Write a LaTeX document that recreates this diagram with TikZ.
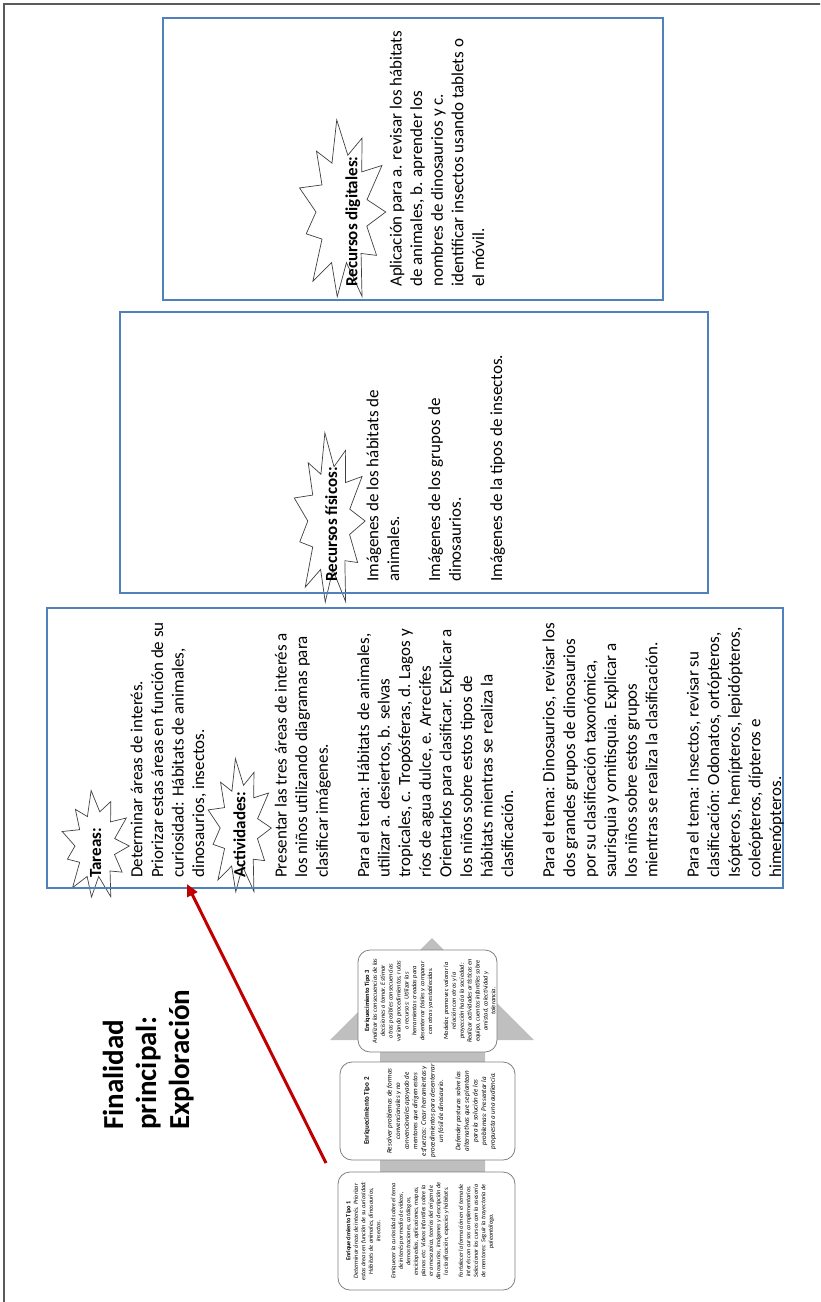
\documentclass[tikz,border=0pt]{standalone}
\usepackage{fontspec}
\setmainfont{Carlito}
\usetikzlibrary{arrows.meta}
\definecolor{boxblue}{RGB}{79,129,189}
\definecolor{framegrey}{RGB}{90,90,90}
\definecolor{arrowgrey}{RGB}{191,191,191}
\definecolor{tipoborder}{RGB}{128,128,128}
\definecolor{redline}{RGB}{192,0,0}
\tikzset{
  bluebox/.style={draw=boxblue, line width=1.3pt},
  maintext/.style={rotate=90, anchor=base west, align=left, inner sep=0pt, font=\fontsize{17}{20.6}\selectfont},
  titletext/.style={rotate=90, anchor=base west, align=left, inner sep=0pt, font=\fontsize{29}{33}\selectfont\bfseries},
  tipobox/.style={draw=tipoborder, fill=white, rounded corners=12pt, line width=0.8pt},
  tipotext/.style={rotate=90, align=center, inner sep=0pt},
  starline/.style={draw=black!75, fill=white, line width=0.7pt},
  explosion/.pic={\path[starline] (0:0.95) -- (14:0.55) -- (30:1.0) -- (46:0.6) -- (62:0.9) -- (80:0.62) -- (98:1.0) -- (115:0.58) -- (132:0.88) -- (148:0.55) -- (165:1.0) -- (180:0.6) -- (196:0.85) -- (212:0.55) -- (228:1.0) -- (245:0.6) -- (262:0.92) -- (278:0.55) -- (295:1.0) -- (312:0.6) -- (328:0.88) -- (344:0.55) -- cycle;},
  redarrow/.style={draw=redline, line width=3pt, -{Triangle[length=12pt,width=11pt]}},
}
\begin{document}
\begin{tikzpicture}[x=1pt,y=1pt]
\useasboundingbox (0,0) rectangle (820,-1302);
\clip (0,0) rectangle (820,-1302);
% outer frame
\draw[framegrey, line width=1.5pt] (4,-1310) -- (4,-4) -- (830,-4);

% grey upward process arrow
\fill[arrowgrey] (380,-1280) -- (380,-1040) -- (330,-1040) -- (432,-938) -- (534,-1040) -- (485,-1040) -- (485,-1280) -- cycle;

% enrichment boxes
\draw[tipobox] (358,-950) rectangle (497,-1052);
\draw[tipobox] (340,-1062) rectangle (515,-1160);
\draw[tipobox] (338,-1172) rectangle (515,-1290);

\node[tipotext, font=\fontsize{6.4}{7.9}\selectfont\itshape] (tipo3) at (430,-1001) {\textup{\textbf{Enriquecimiento Tipo 3}}\\ Analizar las consecuencias de las\\ decisiones a tomar. Estimar\\ otras posibles consecuencias\\ variando procedimientos, rutas\\ o recursos: Utilizar las\\ herramientas creadas para\\ desenterrar fósiles y comparar\\ con otras ya establecidas.\\ ~\\ Modelar, promover, valorar la\\ relación con otros y la\\ proyección hacia la sociedad:\\ Realizar actividades artísticas en\\ equipo, cuentos infantiles sobre\\ amistad, colectividad y\\ tolerancia.};

\node[tipotext, font=\fontsize{7}{8.6}\selectfont\itshape] (tipo2) at (430,-1111) {\textup{\textbf{Enriquecimiento Tipo 2}}\\[14pt] Resolver problemas de formas\\ convencionales y no\\ convencionales apoyado de\\ mentores que dirigen estos\\ esfuerzos: Crear herramientas y\\ procedimientos para desenterrar\\ un fósil de dinosaurio.\\ ~\\ Defender posturas sobre las\\ alternativas que se plantean\\ para la solución de los\\ problemas: Presentar la\\ propuesta a una audiencia.};

\node[tipotext, font=\fontsize{6.2}{7.5}\selectfont\itshape] (tipo1) at (420,-1231) {\textup{\textbf{Enriquecimiento Tipo 1}}\\ Determinar áreas de interés. Priorizar\\ estas áreas en función de su curiosidad:\\ Hábitats de animales, dinosaurios,\\ insectos.\\ ~\\ Enriquecer la curiosidad sobre el tema\\ de interés por medio de videos,\\ demostraciones, catálogos,\\ enciclopedias, aplicaciones, mapas,\\ planos etc: Videos infantiles sobre la\\ era mesozoica, teorías del origen de\\ dinosaurios, imágenes y descripción de\\ la clasificación, especies y hábitats.\\ ~\\ Fortalecer la formación en el tema de\\ interés con cursos complementarios.\\ Seleccionar los cursos con la asesoría\\ de mentores: Seguir la trayectoria de\\ paleontólogo.};

% title (anchor = baseline of the last line)
\node[titletext] (title) at (189,-1130) {Finalidad\\ principal:\\ Exploración};

% explosion stars
\pic[xscale=35, yscale=56] (starT) at (96,-846) {explosion};
\pic[xscale=33, yscale=70] (starA) at (240,-828) {explosion};
\pic[xscale=37, yscale=89] (starF) at (330,-521) {explosion};
\pic[xscale=45, yscale=93] (starD) at (343,-212) {explosion};

% blue boxes
\draw[bluebox] (163,-18) rectangle (663,-300);
\draw[bluebox] (120,-312) rectangle (708,-593);
\draw[bluebox] (47,-608) rectangle (783,-888);

% texts in blue boxes (anchor = baseline of the last line)
\node[maintext] (textD) at (484,-287) {\textbf{Recursos digitales:}\\ ~\\[3pt] Aplicación para a. revisar los hábitats\\ de animales, b. aprender los\\ nombres de dinosaurios y c.\\ identificar insectos usando tablets o\\ el móvil.};

\node[maintext] (textF) at (502,-582) {\textbf{Recursos físicos:}\\ ~\\ Imágenes de los hábitats de\\ animales.\\ ~\\ Imágenes de los grupos de\\ dinosaurios.\\ ~\\ Imágenes de la tipos de insectos.};

\node[maintext] (textA) at (781,-878) {\textbf{Tareas:}\\ ~\\ Determinar áreas de interés.\\ Priorizar estas áreas en función de su\\ curiosidad: Hábitats de animales,\\ dinosaurios, insectos.\\ ~\\ \textbf{Actividades:}\\ ~\\ Presentar las tres áreas de interés a\\ los niños utilizando diagramas para\\ clasificar imágenes.\\ ~\\ Para el tema: Hábitats de animales,\\ utilizar a. desiertos, b. selvas\\ tropicales, c. Tropósferas, d. Lagos y\\ ríos de agua dulce, e. Arrecifes\\ Orientarlos para clasificar. Explicar a\\ los niños sobre estos tipos de\\ hábitats mientras se realiza la\\ clasificación.\\ ~\\ Para el tema: Dinosaurios, revisar los\\ dos grandes grupos de dinosaurios\\ por su clasificación taxonómica,\\ saurisquia y ornitisquia. Explicar a\\ los niños sobre estos grupos\\ mientras se realiza la clasificación.\\ ~\\ Para el tema: Insectos, revisar su\\ clasificación: Odonatos, ortópteros,\\ Isópteros, hemípteros, lepidópteros,\\ coleópteros, dípteros e\\ himenópteros.};

% red arrow
\coordinate (arrowtail) at (326,-1163);
\coordinate (arrowtip) at (187,-884);
\draw[redarrow] (arrowtail) -- (arrowtip);
\end{tikzpicture}
\end{document}
